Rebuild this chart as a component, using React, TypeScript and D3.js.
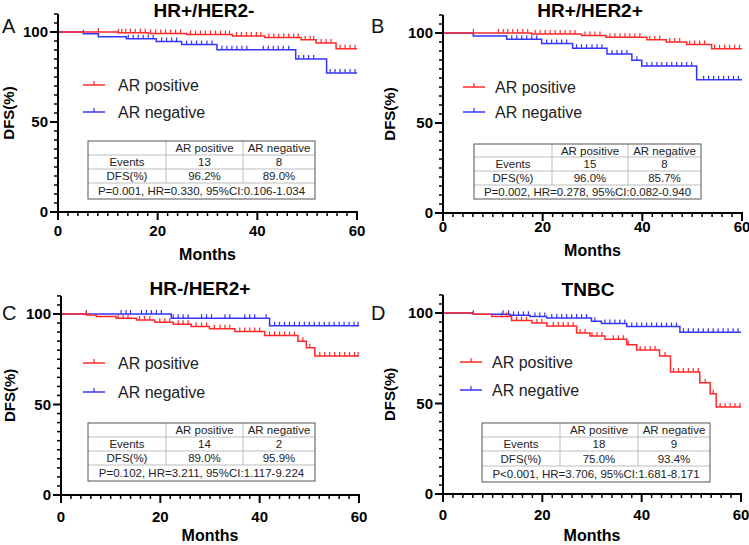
import React from "react";
import * as d3 from "d3";

const RED = "#ff2828";
const BLUE = "#3434ff";
const FONT = "Arial, 'Liberation Sans', sans-serif";

const seriesNames = ["AR positive", "AR negative"];
const xTickLabels = [0, 20, 40, 60];
const yTickLabels = [0, 50, 100];
const tableHeader = ["", "AR positive", "AR negative"];
const rowNames = ["Events", "DFS(%)"];

// Panel A: HR+/HER2-
const aPosSteps: [number, number][] = [[12.0, 99.6], [18.1, 99.2], [25.8, 98.6], [35.0, 97.8], [41.5, 96.9], [48.8, 95.7], [51.8, 93.9], [55.8, 90.7]];
const aNegSteps: [number, number][] = [[5.1, 99.0], [8.1, 97.3], [13.7, 96.3], [19.7, 94.7], [24.8, 93.0], [31.9, 90.1], [47.7, 85.0], [53.9, 77.2]];
const aPosCensor = [8.1, 12.1, 12.8, 13.6, 14.5, 15.5, 16.5, 17.5, 18.6, 19.6, 20.6, 21.6, 22.6, 23.6, 24.6, 26.6, 27.6, 28.6, 29.6, 30.6, 31.6, 32.6, 33.6, 34.4, 35.8, 36.8, 37.8, 38.8, 39.8, 40.7, 42.3, 43.3, 44.3, 45.3, 46.3, 47.3, 48.2, 49.6, 50.6, 51.3, 52.8, 53.8, 54.8, 56.6, 57.6, 58.6, 59.6];
const aNegCensor = [5.1, 14.1, 15.1, 16.1, 17.1, 18.1, 19.1, 20.8, 21.8, 22.8, 23.8, 25.8, 26.8, 27.8, 28.8, 29.9, 30.9, 32.9, 33.9, 34.9, 35.9, 36.9, 37.9, 41.2, 42.2, 43.2, 44.2, 45.2, 46.3, 48.3, 49.3, 50.3, 51.3, 54.6, 55.6, 56.6, 57.6, 58.6, 59.6];
const aEvents = ["13", "8"];
const aDfs = ["96.2%", "89.0%"];
const aStats = "P=0.001, HR=0.330, 95%CI:0.106-1.034";

// Panel B: HR+/HER2+
const bPosSteps: [number, number][] = [[17.8, 99.4], [27.8, 98.6], [32.7, 97.6], [40.9, 96.2], [44.8, 95.0], [48.9, 93.6], [53.9, 91.3]];
const bNegSteps: [number, number][] = [[6.1, 98.4], [12.8, 96.5], [19.8, 94.2], [26.0, 91.5], [32.9, 88.3], [37.9, 84.8], [39.9, 81.7], [50.9, 74.0]];
const bPosCensor = [6.1, 11.1, 12.1, 13.0, 14.0, 15.0, 16.0, 17.0, 18.5, 19.5, 20.5, 21.5, 22.5, 23.5, 24.5, 25.5, 26.5, 28.5, 29.5, 30.5, 31.5, 33.5, 34.5, 35.5, 36.5, 37.5, 38.5, 39.5, 41.5, 42.5, 43.5, 45.5, 46.5, 47.5, 49.5, 50.5, 51.5, 52.5, 54.5, 55.5, 56.5, 57.5, 58.5, 59.5];
const bNegCensor = [6.1, 13.8, 14.8, 15.8, 16.8, 17.8, 18.8, 20.8, 21.8, 22.8, 23.8, 24.8, 26.8, 27.8, 28.8, 29.9, 30.9, 31.9, 33.9, 34.9, 35.9, 36.9, 38.9, 40.9, 41.9, 42.9, 43.9, 44.9, 45.9, 46.9, 47.9, 48.9, 49.9, 52.3, 53.3, 54.3, 55.3, 56.3, 57.3, 58.3, 59.3];
const bEvents = ["15", "8"];
const bDfs = ["96.0%", "85.7%"];
const bStats = "P=0.002, HR=0.278, 95%CI:0.082-0.940";

// Panel C: HR-/HER2+
const cPosSteps: [number, number][] = [[5.1, 99.4], [7.1, 98.6], [11.1, 97.7], [15.2, 96.7], [18.9, 95.5], [22.6, 94.4], [26.2, 93.1], [29.9, 91.8], [35.0, 90.3], [41.0, 88.1], [47.7, 85.0], [49.4, 81.3], [51.1, 76.8]];
const cNegSteps: [number, number][] = [[22.2, 97.7], [42.0, 93.5]];
const cPosCensor = [5.1, 11.5, 12.5, 13.5, 15.8, 16.8, 17.9, 19.9, 20.9, 21.9, 23.6, 24.6, 25.6, 27.2, 28.3, 29.3, 30.9, 32.0, 33.0, 34.0, 36.0, 37.0, 38.0, 39.0, 40.0, 42.0, 43.0, 44.0, 45.0, 46.0, 47.0, 48.7, 50.1, 52.1, 53.1, 54.1, 55.1, 56.1, 57.1, 58.1, 59.1, 59.8];
const cNegCensor = [5.1, 12.1, 13.1, 14.0, 16.2, 17.2, 18.2, 19.2, 20.2, 22.6, 23.6, 24.6, 25.6, 28.3, 29.3, 30.3, 33.0, 34.0, 37.0, 38.0, 39.0, 41.3, 43.0, 44.0, 45.0, 46.0, 47.0, 48.0, 49.0, 50.0, 51.0, 52.0, 53.0, 54.0, 55.0, 56.0, 57.0, 58.0, 59.0, 59.8];
const cEvents = ["14", "2"];
const cDfs = ["89.0%", "95.9%"];
const cStats = "P=0.102, HR=3.211, 95%CI:1.117-9.224";

// Panel D: TNBC
const dPosSteps: [number, number][] = [[6.1, 99.3], [9.8, 98.0], [13.8, 95.8], [17.9, 94.5], [20.9, 92.8], [26.9, 89.0], [29.6, 87.3], [32.6, 85.5], [37.0, 82.5], [39.0, 79.5], [43.6, 76.3], [45.8, 67.4], [51.7, 61.5], [53.8, 55.4], [55.0, 48.0]];
const dNegSteps: [number, number][] = [[6.1, 99.3], [13.5, 98.7], [17.5, 98.0], [20.9, 97.2], [29.9, 95.4], [31.9, 94.2], [37.0, 92.5], [47.7, 89.3]];
const dPosCensor = [11.8, 12.8, 14.8, 15.8, 16.8, 18.9, 19.9, 22.2, 23.2, 24.2, 25.2, 26.2, 27.6, 28.6, 30.0, 31.0, 32.0, 34.3, 35.3, 36.3, 37.3, 39.7, 40.7, 41.7, 42.7, 44.7, 46.4, 47.4, 48.4, 49.4, 50.4, 51.4, 52.8, 54.4, 55.8, 56.8, 57.8, 58.8, 59.8];
const dNegCensor = [6.1, 12.1, 13.2, 14.2, 15.2, 16.2, 17.2, 18.5, 19.5, 20.5, 21.9, 22.9, 23.9, 24.9, 25.9, 26.9, 27.9, 28.9, 30.6, 32.6, 33.6, 34.6, 35.6, 36.6, 38.0, 39.0, 40.0, 41.0, 42.0, 43.0, 44.0, 45.0, 46.0, 47.0, 48.4, 49.4, 50.4, 51.4, 52.4, 53.4, 54.4, 55.4, 56.4, 57.4, 58.4, 59.4];
const dEvents = ["18", "9"];
const dDfs = ["75.0%", "93.4%"];
const dStats = "P<0.001, HR=3.706, 95%CI:1.681-8.171";

type PanelDef = {
  letter: string; title: string;
  pos: [number, number][]; neg: [number, number][];
  posC: number[]; negC: number[];
  events: string[]; dfs: string[]; stats: string;
  x0: number; x60: number; y0: number; y100: number;
  titleX: number; titleY: number; letterX: number; letterY: number;
  ylabX: number; xlabY: number; monthsY: number;
  legX: number; legY: [number, number]; legTextX: number;
  tab: { x: number[]; y: number[] };
};

const panels: PanelDef[] = [
  {
    letter: "A", title: "HR+/HER2-", pos: aPosSteps, neg: aNegSteps, posC: aPosCensor, negC: aNegCensor,
    events: aEvents, dfs: aDfs, stats: aStats,
    x0: 58, x60: 357, y0: 212, y100: 32, titleX: 204, titleY: 17, letterX: 2, letterY: 33,
    ylabX: 14, xlabY: 236, monthsY: 260, legX: 83, legY: [85, 112], legTextX: 118,
    tab: { x: [88, 166, 243, 315], y: [141, 155, 169, 183, 199] },
  },
  {
    letter: "B", title: "HR+/HER2+", pos: bPosSteps, neg: bNegSteps, posC: bPosCensor, negC: bNegCensor,
    events: bEvents, dfs: bDfs, stats: bStats,
    x0: 443, x60: 742, y0: 213, y100: 33, titleX: 590, titleY: 17, letterX: 371, letterY: 33,
    ylabX: 395, xlabY: 232, monthsY: 256, legX: 463, legY: [87, 112], legTextX: 495,
    tab: { x: [474, 552, 628, 701], y: [144, 157, 171, 185, 199] },
  },
  {
    letter: "C", title: "HR-/HER2+", pos: cPosSteps, neg: cNegSteps, posC: cPosCensor, negC: cNegCensor,
    events: cEvents, dfs: cDfs, stats: cStats,
    x0: 61, x60: 359, y0: 495, y100: 314, titleX: 200, titleY: 295, letterX: 2, letterY: 320,
    ylabX: 15, xlabY: 522, monthsY: 541, legX: 83, legY: [363, 392], legTextX: 118,
    tab: { x: [88, 166, 243, 315], y: [423, 437, 451, 465, 481] },
  },
  {
    letter: "D", title: "TNBC", pos: dPosSteps, neg: dNegSteps, posC: dPosCensor, negC: dNegCensor,
    events: dEvents, dfs: dDfs, stats: dStats,
    x0: 443, x60: 741, y0: 494, y100: 313, titleX: 588, titleY: 296, letterX: 371, letterY: 320,
    ylabX: 395, xlabY: 520, monthsY: 541, legX: 460, legY: [362, 390], legTextX: 492,
    tab: { x: [482, 560, 638, 710], y: [423, 437, 451, 466, 482] },
  },
];

function survAt(steps: [number, number][], t: number) {
  let s = 100;
  for (const [tt, v] of steps) if (tt <= t) s = v;
  return s;
}

function Panel({ p }: { p: PanelDef }) {
  const x = d3.scaleLinear().domain([0, 60]).range([p.x0, p.x60]);
  const y = d3.scaleLinear().domain([0, 100]).range([p.y0, p.y100]);
  const line = d3.line<[number, number]>().x((d) => x(d[0])).y((d) => y(d[1])).curve(d3.curveStepAfter);
  const pts = (steps: [number, number][]): [number, number][] => [[0, 100], ...steps, [60, steps[steps.length - 1][1]]];
  const yMinor = d3.range(0, 111, 5).filter((v) => !yTickLabels.includes(v));
  const xMinor = d3.range(0, 61, 2).filter((v) => !xTickLabels.includes(v));
  const series = [
    { steps: p.neg, cens: p.negC, color: BLUE },
    { steps: p.pos, cens: p.posC, color: RED },
  ];
  const tx = p.tab.x, ty = p.tab.y;
  const cellText = [tableHeader, [rowNames[0], ...p.events], [rowNames[1], ...p.dfs]];
  return (
    <g>
      <text x={p.titleX} y={p.titleY} textAnchor="middle" fontSize={19} fontWeight="bold" fontFamily={FONT}>{p.title}</text>
      <text x={p.letterX} y={p.letterY} fontSize={20} fontFamily={FONT} fill="#111">{p.letter}</text>
      <text transform={`translate(${p.ylabX},${(y(0) + y(110)) / 2}) rotate(-90)`} textAnchor="middle" fontSize={15} fontWeight="bold" fontFamily={FONT}>DFS(%)</text>
      <text x={(p.x0 + p.x60) / 2} y={p.monthsY} textAnchor="middle" fontSize={16} fontWeight="bold" fontFamily={FONT}>Months</text>
      {series.map((s, i) => (
        <g key={i}>
          <path d={line(pts(s.steps)) || ""} fill="none" stroke={s.color} strokeWidth={1.5} />
          {s.cens.map((t, j) => {
            const yy = y(survAt(s.steps, t));
            return <line key={j} x1={x(t)} x2={x(t)} y1={yy} y2={yy - 4} stroke={s.color} strokeWidth={1.2} />;
          })}
        </g>
      ))}
      <line x1={p.x0} x2={p.x0} y1={y(0)} y2={y(110)} stroke="#000" strokeWidth={2} />
      <line x1={p.x0} x2={p.x60 + 1} y1={p.y0} y2={p.y0} stroke="#000" strokeWidth={2} />
      {yTickLabels.map((v) => (
        <g key={"ym" + v}>
          <line x1={p.x0 - 8} x2={p.x0} y1={y(v)} y2={y(v)} stroke="#000" strokeWidth={2} />
          <text x={p.x0 - 10} y={y(v) + 5} textAnchor="end" fontSize={15} fontWeight="bold" fontFamily={FONT}>{v}</text>
        </g>
      ))}
      {yMinor.map((v) => (
        <line key={"yn" + v} x1={p.x0 - 4} x2={p.x0} y1={y(v)} y2={y(v)} stroke="#000" strokeWidth={1.5} />
      ))}
      {xTickLabels.map((v) => (
        <g key={"xm" + v}>
          <line x1={x(v)} x2={x(v)} y1={p.y0} y2={p.y0 + 8} stroke="#000" strokeWidth={2} />
          <text x={x(v)} y={p.xlabY} textAnchor="middle" fontSize={15} fontWeight="bold" fontFamily={FONT}>{v}</text>
        </g>
      ))}
      {xMinor.map((v) => (
        <line key={"xn" + v} x1={x(v)} x2={x(v)} y1={p.y0} y2={p.y0 + 4} stroke="#000" strokeWidth={1.5} />
      ))}
      {[RED, BLUE].map((c, i) => (
        <g key={"lg" + i}>
          <line x1={p.legX} x2={p.legX + 22} y1={p.legY[i]} y2={p.legY[i]} stroke={c} strokeWidth={1.5} />
          <line x1={p.legX + 11} x2={p.legX + 11} y1={p.legY[i]} y2={p.legY[i] - 4} stroke={c} strokeWidth={1.2} />
          <text x={p.legTextX} y={p.legY[i] + 6} fontSize={16} fontFamily={FONT} fill="#222">{seriesNames[i]}</text>
        </g>
      ))}
      <g fontFamily={FONT} fontSize={11.5} fill="#222">
        {[1, 2, 3].map((r) => (
          <line key={"hr" + r} x1={tx[0]} x2={tx[3]} y1={ty[r]} y2={ty[r]} stroke="#bdbdbd" strokeWidth={1} />
        ))}
        {[1, 2].map((c) => (
          <line key={"vc" + c} x1={tx[c]} x2={tx[c]} y1={ty[0]} y2={ty[3]} stroke="#bdbdbd" strokeWidth={1} />
        ))}
        <rect x={tx[0]} y={ty[0]} width={tx[3] - tx[0]} height={ty[4] - ty[0]} fill="none" stroke="#555" strokeWidth={1} />
        {cellText.map((row, r) =>
          row.map((t, c) => (
            <text key={r + "-" + c} x={(tx[c] + tx[c + 1]) / 2} y={(ty[r] + ty[r + 1]) / 2 + 4} textAnchor="middle">{t}</text>
          ))
        )}
        <text x={(tx[0] + tx[3]) / 2} y={(ty[3] + ty[4]) / 2 + 4} textAnchor="middle">{p.stats}</text>
      </g>
    </g>
  );
}

export default function App() {
  return (
    <svg width={749} height={545} style={{ position: "absolute", left: 0, top: 0, background: "#fff" }}>
      <rect width={749} height={545} fill="#fff" />
      {panels.map((p) => (
        <Panel key={p.letter} p={p} />
      ))}
    </svg>
  );
}
